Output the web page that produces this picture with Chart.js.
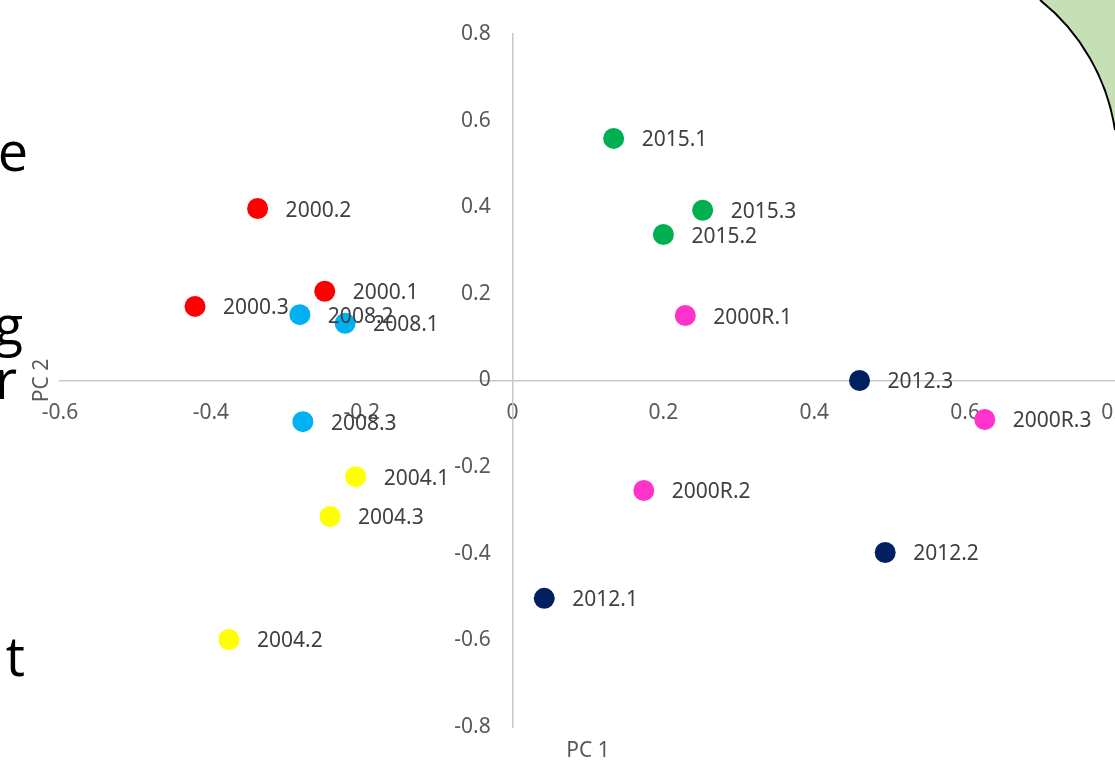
<!DOCTYPE html>
<html>
<head>
<meta charset="utf-8">
<script src="https://cdn.jsdelivr.net/npm/chart.js@4/dist/chart.umd.min.js"></script>
<style>
  html, body { margin: 0; padding: 0; width: 1115px; height: 760px; overflow: hidden; background: #fff; }
  #wrap { position: relative; width: 1115px; height: 760px; overflow: hidden; }
  #deco { position: absolute; left: 0; top: 0; }
  #box { position: absolute; left: 0; top: 0; width: 1160px; height: 760px; }
  .slide { position: absolute; font-family: "Open Sans", "Noto Sans", sans-serif; font-size: 54px; color: #000; line-height: 1; white-space: nowrap; }
</style>
</head>
<body>
<div id="wrap">
  <svg id="deco" width="1115" height="760">
    <path d="M 1040 0 A 205 205 0 0 1 1115 130 L 1115 0 Z" fill="#C5E0B4"/>
    <path d="M 1040 0 A 205 205 0 0 1 1115 130" fill="none" stroke="#000" stroke-width="2"/>
  </svg>
  <div class="slide" style="right:1087px; top:123px;">ne</div>
  <div class="slide" style="right:1092px; top:297px;">g</div>
  <div class="slide" style="right:1098px; top:351px;">r</div>
  <div class="slide" style="right:1090px; top:628px;">t</div>
  <div id="box"><canvas id="pca"></canvas></div>
</div>
<script>
const seriesNames = ['2000', '2008', '2004', '2015', '2000R', '2012'];
const seriesColors = ['#FF0000', '#00B0F0', '#FFFF00', '#00B050', '#FF33CC', '#002060'];

// PC 1 / PC 2 scores for replicates .1, .2, .3
const pc1_2000 = [-0.249, -0.338, -0.421];
const pc2_2000 = [0.206, 0.397, 0.171];
const pc1_2008 = [-0.222, -0.282, -0.278];
const pc2_2008 = [0.132, 0.152, -0.095];
const pc1_2004 = [-0.208, -0.376, -0.242];
const pc2_2004 = [-0.222, -0.598, -0.314];
const pc1_2015 = [0.134, 0.200, 0.252];
const pc2_2015 = [0.559, 0.337, 0.393];
const pc1_2000R = [0.229, 0.174, 0.626];
const pc2_2000R = [0.150, -0.254, -0.090];
const pc1_2012 = [0.042, 0.494, 0.460];
const pc2_2012 = [-0.503, -0.397, 0.000];

const xTitle = 'PC 1';
const yTitle = 'PC 2';

const pc1 = [pc1_2000, pc1_2008, pc1_2004, pc1_2015, pc1_2000R, pc1_2012];
const pc2 = [pc2_2000, pc2_2008, pc2_2004, pc2_2015, pc2_2000R, pc2_2012];

const datasets = seriesNames.map((name, i) => ({
  label: name,
  data: pc1[i].map((x, j) => ({ x: x, y: pc2[i][j], name: name + '.' + (j + 1) })),
  backgroundColor: seriesColors[i],
  borderColor: seriesColors[i],
  borderWidth: 0,
  pointRadius: 10.5,
  pointHoverRadius: 10.5
}));

const fontFam = '"Noto Sans", "Open Sans", sans-serif';
const fmt = v => String(Number(v.toFixed(1)));

// labels next to each point + axis titles
const labelPlugin = {
  id: 'pointLabels',
  afterDatasetsDraw(chart) {
    const ctx = chart.ctx;
    ctx.save();
    ctx.font = '21px ' + fontFam;
    ctx.fillStyle = '#404040';
    ctx.textAlign = 'left';
    ctx.textBaseline = 'middle';
    chart.data.datasets.forEach((ds, i) => {
      chart.getDatasetMeta(i).data.forEach((pt, j) => {
        ctx.fillText(ds.data[j].name, pt.x + 28, pt.y + 2);
      });
    });
    const area = chart.chartArea;
    ctx.fillStyle = '#595959';
    ctx.textAlign = 'center';
    ctx.fillText(xTitle, (area.left + area.right) / 2, area.bottom + 24);
    ctx.translate(area.left - 18, (area.top + area.bottom) / 2);
    ctx.rotate(-Math.PI / 2);
    ctx.fillText(yTitle, 0, 0);
    ctx.restore();
  }
};

new Chart(document.getElementById('pca'), {
  type: 'scatter',
  data: { datasets: datasets },
  options: {
    responsive: true,
    maintainAspectRatio: false,
    animation: false,
    events: [],
    layout: { padding: { left: 60, right: 44, top: 34, bottom: 33 } },
    plugins: { legend: { display: false }, tooltip: { enabled: false } },
    scales: {
      x: {
        type: 'linear',
        min: -0.6,
        max: 0.8,
        position: { y: 0 },
        grid: { display: false, drawTicks: false },
        border: { display: true, color: '#C8C8C8', width: 1.5 },
        ticks: { stepSize: 0.2, padding: 20, color: '#595959', font: { size: 21, family: fontFam }, callback: v => fmt(v) }
      },
      y: {
        type: 'linear',
        min: -0.8,
        max: 0.8,
        position: { x: 0 },
        grid: { display: false, drawTicks: false },
        border: { display: true, color: '#C8C8C8', width: 1.5 },
        ticks: { stepSize: 0.2, color: '#595959', font: { size: 21, family: fontFam }, callback: v => fmt(v) + '    ' }
      }
    }
  },
  plugins: [labelPlugin]
});
</script>
</body>
</html>
